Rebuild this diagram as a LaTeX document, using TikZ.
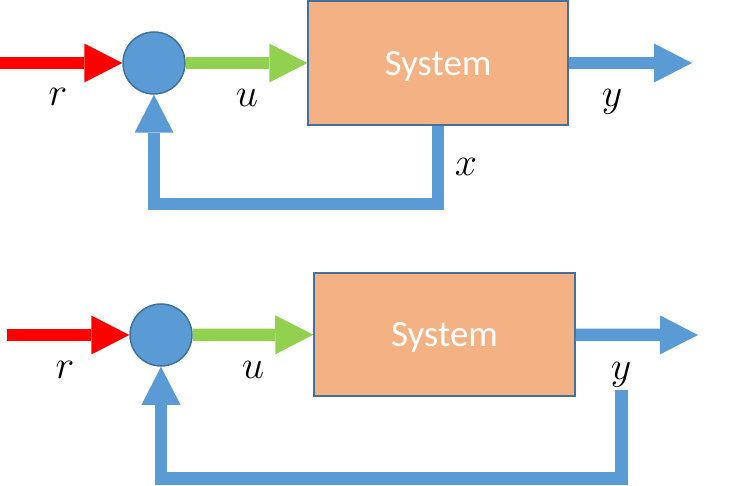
\documentclass[tikz,border=0pt]{standalone}
\usepackage{fontspec}
\newfontfamily\sysfont{Carlito}
\usetikzlibrary{arrows.meta}
\definecolor{sigblue}{HTML}{5B9BD5}
\definecolor{edgeblue}{HTML}{41719C}
\definecolor{sysorange}{HTML}{F4B183}
\definecolor{sigred}{HTML}{FF0000}
\definecolor{siggreen}{HTML}{92D050}
% large math-italic variable names
\newcommand{\varname}[1]{\scalebox{1.6}{$#1$}}
\begin{document}
\begin{tikzpicture}[x=1pt,y=-1pt,
  signal/.style={line width=12.5pt, line join=miter,
    -{Triangle[length=38pt,width=39pt,line width=0pt]}},
  sumnode/.style={circle, fill=sigblue, draw=edgeblue, line width=1.5pt,
    minimum size=62pt, inner sep=0pt},
  sysbox/.style={rectangle, fill=sysorange, draw=edgeblue, line width=1.5pt,
    minimum width=260pt, minimum height=124pt, inner sep=0pt, text=white,
    text depth=0pt, font=\sysfont\fontsize{37}{40}\selectfont},
  varlabel/.style={anchor=base, inner sep=0pt, font=\fontsize{24.88}{30}\selectfont}]
\useasboundingbox (0,0) rectangle (739,486);

% ---- loop with state feedback ----
\node[sumnode] (sumA) at (154,63) {};
\node[sysbox] (sysA) at (438,63) {System};
\coordinate (inA) at (0,63);
\coordinate (outA) at (692,63);
\coordinate (cA) at (154,204);
\draw[signal, sigred] (inA) -- (sumA);
\draw[signal, siggreen] (sumA) -- (sysA);
\draw[signal, sigblue] (sysA) -- (outA);
\draw[signal, sigblue] (sysA.south) |- (cA) -- (sumA.south);
\node[varlabel] (rA) at (58,106) {\varname{r}};
\node[varlabel] (uA) at (247,107) {\varname{u}};
\node[varlabel] (yA) at (612,107) {\varname{y}};
\node[varlabel] (xA) at (466,176) {\varname{x}};

% ---- loop with output feedback ----
\node[sumnode] (sumB) at (161,335) {};
\node[sysbox, minimum width=261pt, minimum height=123pt] (sysB) at (444.5,334.5) {System};
\coordinate (inB) at (7,335);
\coordinate (outB) at (698,335);
\coordinate (fbB) at (621.5,390);
\coordinate (cB) at (161,478.5);
\draw[signal, sigred] (inB) -- (sumB);
\draw[signal, siggreen] (sumB) -- (sysB);
\draw[signal, sigblue] (sysB) -- (outB);
\draw[signal, sigblue] (fbB) |- (cB) -- (sumB.south);
\node[varlabel] (rB) at (65,378) {\varname{r}};
\node[varlabel] (uB) at (253,378) {\varname{u}};
\node[varlabel] (yB) at (621,379) {\varname{y}};
\end{tikzpicture}
\end{document}
